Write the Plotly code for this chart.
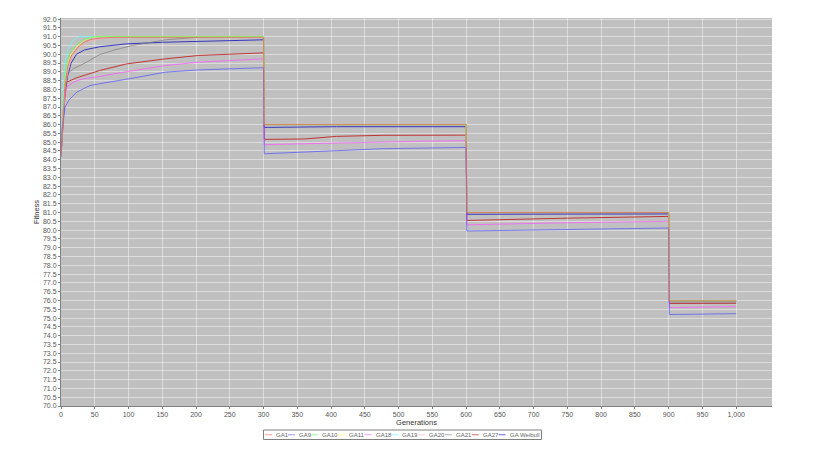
import plotly.graph_objects as go

# ---------------- data ----------------
series_names = ["GA1", "GA9", "GA10", "GA11", "GA18", "GA19", "GA20", "GA21", "GA27", "GA Weibull"]
series_colors = ["#FF5555", "#5555FF", "#55FF55", "#FFFF55", "#FF55FF",
                 "#55FFFF", "#FFAFAF", "#808080", "#C00000", "#0000C0"]

ga1_x = [0, 3, 6, 10, 15, 25, 35, 45, 60, 80, 300, 301, 600, 601, 900, 901, 1000]
ga1_y = [84.2, 86.5, 88.3, 89.3, 89.9, 90.4, 90.7, 90.85, 90.93, 90.96, 90.96, 86.0, 86.0, 81.0, 81.0, 75.98, 75.98]

ga9_x = [0, 2, 6, 12, 23, 43, 57, 80, 106, 155, 204, 250, 300,
         301, 330, 398, 477, 567, 600, 601, 700, 800, 900, 901, 950, 1000]
ga9_y = [84.2, 85.8, 87.0, 87.4, 87.84, 88.22, 88.32, 88.45, 88.64, 88.98, 89.11, 89.17, 89.23,
         84.34, 84.38, 84.5, 84.63, 84.69, 84.7, 79.95, 80.0, 80.07, 80.12, 75.2, 75.23, 75.25]

ga10_x = [0, 3, 6, 10, 15, 25, 35, 50, 300, 301, 600, 601, 900, 901, 1000]
ga10_y = [84.2, 87.0, 88.8, 89.7, 90.2, 90.6, 90.85, 91.0, 91.0, 86.0, 86.0, 81.0, 81.0, 75.98, 75.98]

ga11_x = [0, 3, 6, 10, 15, 25, 35, 45, 55, 300, 301, 600, 601, 900, 901, 1000]
ga11_y = [84.2, 86.8, 88.6, 89.5, 90.0, 90.5, 90.8, 90.95, 91.0, 91.0, 86.0, 86.0, 81.0, 81.0, 75.98, 75.98]

ga18_x = [0, 3, 8, 20, 33, 57, 80, 106, 155, 204, 250, 300,
          301, 400, 542, 600, 601, 750, 900, 901, 1000]
ga18_y = [84.2, 86.8, 88.13, 88.45, 88.6, 88.73, 88.9, 89.07, 89.36, 89.55, 89.65, 89.74,
          84.86, 84.95, 85.06, 85.08, 80.3, 80.42, 80.5, 75.59, 75.65]

ga19_x = [0, 2, 4, 7, 10, 15, 20, 27, 300, 301, 600, 601, 900, 901, 1000]
ga19_y = [84.2, 86.5, 88.5, 89.7, 90.2, 90.65, 90.85, 91.0, 91.0, 86.0, 86.0, 81.0, 81.0, 75.98, 75.98]

ga20_x = [0, 3, 6, 10, 15, 25, 40, 60, 90, 300, 301, 600, 601, 900, 901, 1000]
ga20_y = [84.2, 86.3, 88.0, 89.0, 89.7, 90.3, 90.7, 90.9, 91.0, 91.0, 86.0, 86.0, 81.0, 81.0, 75.98, 75.98]

ga21_x = [0, 3, 6, 10, 18, 38, 57, 80, 106, 155, 204, 240, 300, 301, 600, 601, 900, 901, 1000]
ga21_y = [84.2, 86.5, 88.2, 88.9, 89.17, 89.55, 89.98, 90.25, 90.5, 90.82, 90.97, 91.0, 91.0,
          86.0, 86.0, 81.0, 81.0, 75.98, 75.98]

ga27_x = [0, 3, 8, 23, 57, 97, 155, 204, 250, 300,
          301, 360, 408, 477, 600, 601, 750, 900, 901, 1000]
ga27_y = [84.2, 86.6, 88.4, 88.66, 89.07, 89.45, 89.74, 89.93, 90.0, 90.08,
          85.16, 85.18, 85.33, 85.39, 85.4, 80.55, 80.68, 80.78, 75.83, 75.84]

weib_x = [0, 3, 6, 10, 15, 23, 35, 57, 97, 150, 200, 250, 300,
          301, 408, 600, 601, 900, 901, 1000]
weib_y = [84.2, 86.0, 87.8, 88.8, 89.5, 90.0, 90.25, 90.42, 90.59, 90.68, 90.72, 90.77, 90.82,
          85.84, 85.88, 85.88, 80.9, 80.92, 75.93, 75.93]

series_x = [ga1_x, ga9_x, ga10_x, ga11_x, ga18_x, ga19_x, ga20_x, ga21_x, ga27_x, weib_x]
series_y = [ga1_y, ga9_y, ga10_y, ga11_y, ga18_y, ga19_y, ga20_y, ga21_y, ga27_y, weib_y]

x_ticks = list(range(0, 1001, 50))
x_title = "Generations"
y_title = "Fitness"

# ---------------- figure ----------------
W, H = 817, 463
OFF = 8                        # default body margin of the page
PL, PR, PT, PB = 61, 772, 18, 406   # plot area in screen pixels
L, T = PL - OFF, PT - OFF
pw, ph = PR - PL, PB - PT
R = W - L - pw
B = H - T - ph

fig = go.Figure()
# JFreeChart renders series in reverse order (first series on top)
for name, col, xs, ys in reversed(list(zip(series_names, series_colors, series_x, series_y))):
    fig.add_trace(go.Scatter(x=xs, y=ys, mode="lines", name=name,
                             line=dict(color=col, width=1), opacity=0.72,
                             showlegend=False, hoverinfo="skip"))

FONT = "Liberation Sans, Arial, sans-serif"
tick_font = dict(family=FONT, size=7, color="#555555")
fig.update_layout(
    width=W, height=H,
    margin=dict(l=L, r=R, t=T, b=B, autoexpand=False),
    paper_bgcolor="white", plot_bgcolor="#C0C0C0",
    showlegend=False,
    xaxis=dict(range=[0, 1053], tickmode="array", tickvals=x_ticks,
               ticktext=[f"{v:,d}" for v in x_ticks],
               showgrid=True, gridcolor="rgba(255,255,255,0.45)", gridwidth=1,
               zeroline=False, showline=True, linecolor="#808080", linewidth=1,
               ticks="outside", ticklen=2, tickcolor="#808080",
               tickfont=tick_font, automargin=False,
               title=dict(text=x_title, standoff=1,
                          font=dict(family=FONT, size=7.5, color="#333333"))),
    yaxis=dict(range=[70, 92.06], dtick=0.5, tick0=70, tickformat=".1f",
               showgrid=True, gridcolor="rgba(255,255,255,0.45)", gridwidth=1,
               zeroline=False, showline=True, linecolor="#808080", linewidth=1,
               ticks="outside", ticklen=2, tickcolor="#808080",
               tickfont=tick_font, automargin=False,
               title=dict(text=y_title, standoff=2,
                          font=dict(family=FONT, size=7.5, color="#333333"))),
)

# ---------------- manual legend (JFreeChart style) ----------------
def px2paper_x(px):
    return (px - PL) / pw

def px2paper_y(py):
    return (PB - py) / ph

leg_left, leg_right = 263.5, 541.5
leg_top, leg_bot = 430, 439.5
leg_cy = (leg_top + leg_bot) / 2
fig.add_shape(type="rect", xref="paper", yref="paper",
              x0=px2paper_x(leg_left), x1=px2paper_x(leg_right),
              y0=px2paper_y(leg_bot), y1=px2paper_y(leg_top),
              line=dict(color="#808080", width=1), fillcolor="white", layer="above")

cx = 265.0
for name, col in zip(series_names, series_colors):
    fig.add_shape(type="line", xref="paper", yref="paper",
                  x0=px2paper_x(cx), x1=px2paper_x(cx + 7),
                  y0=px2paper_y(leg_cy), y1=px2paper_y(leg_cy),
                  line=dict(color=col, width=1), opacity=0.6, layer="above")
    fig.add_annotation(x=px2paper_x(cx + 9), y=px2paper_y(leg_cy), xref="paper", yref="paper",
                       text=name, showarrow=False, xanchor="left", yanchor="middle",
                       font=dict(family=FONT, size=6, color="#666666"))
    cx += 11.6 + 3.8 * len(name)

fig.write_html("out.html")
